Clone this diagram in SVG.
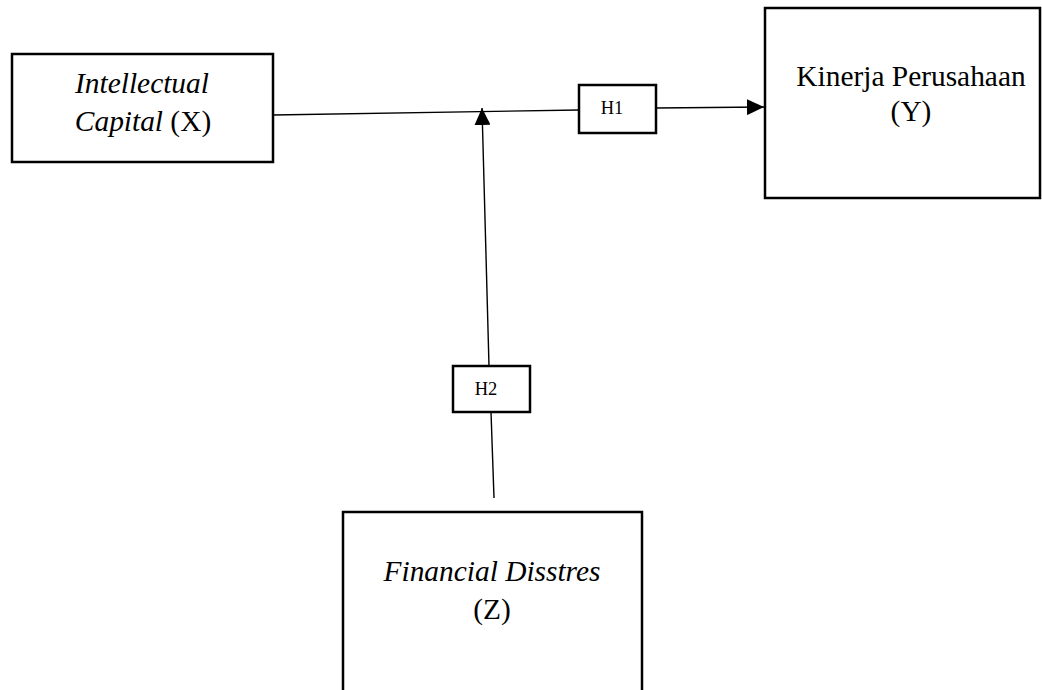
<svg xmlns="http://www.w3.org/2000/svg" width="1042" height="690" viewBox="0 0 1042 690">
<style>
.box{fill:#fff;stroke:#000;stroke-width:2.5}
.hbox{fill:#fff;stroke:#000;stroke-width:2.5}
.t{font-family:"Liberation Serif","Times New Roman",serif;font-size:29.4px;fill:#000;text-anchor:middle}
.i{font-style:italic}
.h{font-family:"Liberation Serif","Times New Roman",serif;font-size:18.5px;fill:#000;text-anchor:middle}
.ln{stroke:#000;stroke-width:1.4;fill:none}
</style>
<defs>
<marker id="arr" markerWidth="17" markerHeight="16" refX="17" refY="8" orient="auto" markerUnits="userSpaceOnUse">
<path d="M0,0 L17,8 L0,16 Z" fill="#000"/>
</marker>
</defs>
<rect width="1042" height="690" fill="#fff"/>
<g id="connectors">
<line class="ln" x1="273" y1="115" x2="579" y2="110"/>
<line class="ln" x1="656" y1="108" x2="764" y2="107" marker-end="url(#arr)"/>
<line class="ln" x1="489" y1="366" x2="482" y2="108" marker-end="url(#arr)"/>
<line class="ln" x1="491" y1="412" x2="494" y2="498"/>
</g>
<g id="nodeX">
<rect class="box" x="12" y="54" width="261" height="108"/>
<text class="t" x="142" y="93"><tspan class="i">Intellectual</tspan></text>
<text class="t" x="143" y="131"><tspan class="i">Capital</tspan> (X)</text>
</g>
<g id="nodeY">
<rect class="box" x="765" y="8" width="275" height="190"/>
<text class="t" x="911" y="86">Kinerja Perusahaan</text>
<text class="t" x="911" y="121">(Y)</text>
</g>
<g id="nodeZ">
<rect class="box" x="343" y="512" width="299" height="190"/>
<text class="t i" x="492" y="581">Financial Disstres</text>
<text class="t" x="492" y="619">(Z)</text>
</g>
<g id="H1">
<rect class="hbox" x="579" y="85" width="77" height="48"/>
<text class="h" x="612" y="114">H1</text>
</g>
<g id="H2">
<rect class="hbox" x="453" y="366" width="77" height="46"/>
<text class="h" x="486" y="395">H2</text>
</g>
</svg>
